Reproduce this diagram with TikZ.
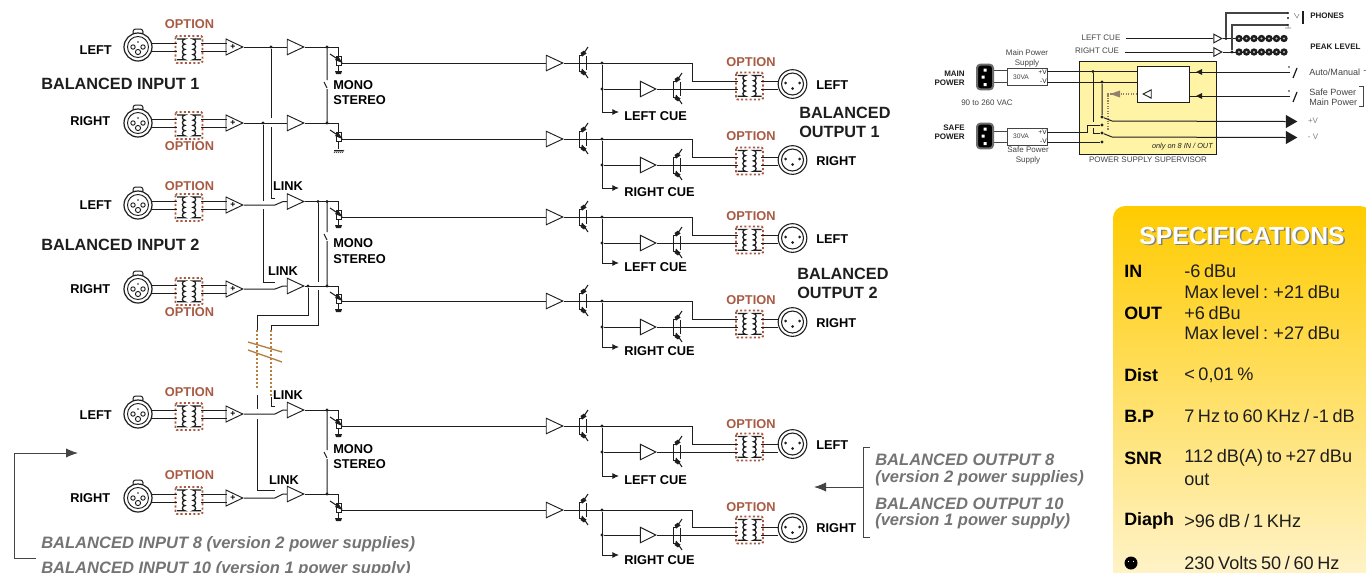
\documentclass[tikz,border=0pt]{standalone}
\usepackage{fontspec}
\setmainfont{Liberation Sans}
\usetikzlibrary{shapes.geometric,arrows.meta}
\definecolor{ink}{HTML}{1E1E1E}
\definecolor{optc}{HTML}{A85A42}
\definecolor{brownl}{HTML}{B5803F}
\definecolor{greyt}{HTML}{747474}
\definecolor{panelt}{HTML}{444444}
\newcommand{\tsp}[1]{{\spaceskip=.2em\relax #1}}
\tikzset{
 w/.style={line width=0.75pt,draw=ink},
 thinw/.style={line width=0.55pt,draw=ink},
 amp/.style={isosceles triangle,isosceles triangle stretches,shape border rotate=0,draw=ink,fill=white,line width=0.7pt,inner sep=0pt,minimum width=11.6pt,minimum height=12.4pt,anchor=apex},
 opamp/.style={amp,minimum height=12.6pt,minimum width=12pt},
 samp/.style={amp,minimum height=6pt,minimum width=6.5pt},
 lab/.style={inner sep=0pt,font=\fontsize{9.6}{11}\selectfont\bfseries,text=black},
 big/.style={inner sep=0pt,anchor=west,font=\fontsize{12.2}{14}\selectfont\bfseries,text=ink},
 opt/.style={inner sep=0pt,font=\fontsize{9.6}{11}\selectfont\bfseries,text=optc},
 note/.style={inner sep=0pt,anchor=west,font=\fontsize{12.4}{14}\selectfont\bfseries\itshape,text=greyt},
 tiny/.style={inner sep=0pt,font=\fontsize{6}{7}\selectfont,text=panelt},
 tinyl/.style={inner sep=0pt,anchor=west,font=\fontsize{6.8}{8}\selectfont,text=panelt},
 tinyb/.style={inner sep=0pt,font=\fontsize{6}{7}\selectfont\bfseries,text=ink},
 spk/.style={inner sep=0pt,anchor=west,font=\fontsize{13.4}{16}\selectfont\bfseries,text=black},
 spv/.style={inner sep=0pt,anchor=west,font=\fontsize{13.6}{16}\selectfont,text=ink},
 xfbox/.style={draw=optc,line width=1.4pt,dash pattern=on 1.6pt off 1.6pt,rounded corners=1pt},
 tipb/.style={-{Latex[length=5pt,width=4.5pt]}},
 gr/.style={line width=0.75pt,draw=panelt},
 jd/.style={circle,fill=ink,inner sep=0pt,minimum size=2.4pt},
 bigtip/.style={isosceles triangle,isosceles triangle stretches,shape border rotate=0,fill=ink,inner sep=0pt,minimum width=9.8pt,minimum height=8.5pt,anchor=apex},
 iecbody/.style={draw=gray!85!black,line width=1.5pt,fill=black,rounded corners=2.5pt,minimum width=12pt,minimum height=18.5pt,inner sep=0pt},
 psubox/.style={draw=panelt,fill=white,line width=0.55pt,minimum width=30pt,minimum height=12.4pt,inner sep=0pt},
 psuv/.style={inner sep=0pt,anchor=east,font=\fontsize{5}{6}\selectfont,text=ink},
}
% transformer: name, cx, cy
\newcommand{\xfmr}[3]{%
 \coordinate (#1) at (#2,#3);
 \draw[xfbox] (#2-13.5,#3-13.5) rectangle (#2+13.5,#3+13.5);
 \draw[line width=0.95pt,draw=ink] (#2-12,#3-10.5) -- (#2-4,#3-10.5)
   arc[start angle=-90,end angle=-270,radius=2.6] arc[start angle=-90,end angle=-270,radius=2.6]
   arc[start angle=-90,end angle=-270,radius=2.6] arc[start angle=-90,end angle=-270,radius=2.6]
   -- (#2-12,#3+10.3);
 \draw[line width=0.95pt,draw=ink] (#2+12,#3-10.5) -- (#2+4,#3-10.5)
   arc[start angle=-90,end angle=90,radius=2.6] arc[start angle=-90,end angle=90,radius=2.6]
   arc[start angle=-90,end angle=90,radius=2.6] arc[start angle=-90,end angle=90,radius=2.6]
   -- (#2+12,#3+10.3);
}
% transistor pair: name, x, y
\newcommand{\tr}[3]{%
 \coordinate (#1in) at (#2,#3);
 \coordinate (#1out) at (#2+8,#3);
 \draw[w] (#2,#3-8) -- (#2,#3+8) (#2+7,#3-7) -- (#2+7,#3+7) (#2,#3) -- (#2+8,#3);
 \draw[w] (#2,#3-8) -- (#2+4,#3-8);
 \draw[w] (#2,#3+8) -- (#2+4,#3+8);
 \draw[w] (#2+3,#3-7) -- (#2+9,#3-16);
 \draw[w] (#2+3,#3+6) -- (#2+9,#3+15);
 \fill[ink] (#2+3,#3-6.5) -- (#2+7.5,#3-9.5) -- (#2+5,#3-12.5) -- (#2+1.5,#3-10) -- cycle;
 \fill[ink] (#2+3,#3+6.5) -- (#2+7.5,#3+9.5) -- (#2+5,#3+12.5) -- (#2+1.5,#3+10) -- cycle;
}
% input channel: name, y, label, label y, option y, label x
\newcommand{\inch}[6]{%
 \draw[w,fill=white,rounded corners=2pt] (133,#2-18) rectangle (143,#2-12);
 \node[circle,draw=ink,fill=white,line width=0.9pt,minimum size=21pt,inner sep=0pt] (#1x) at (138,#2) {};
 \draw[line width=0.7pt,draw=ink] (#1x) circle[radius=10.5];
 \draw[line width=0.7pt,draw=ink] (133,#2) circle[radius=2.2] (143,#2) circle[radius=2.2] (138,#2+5) circle[radius=2.6];
 \fill[ink] (138,#2-5) circle[radius=0.9];
 \node[lab,anchor=east] (#1l) at (#6,#4) {#3};
 \xfmr{#1t}{189}{#2+2.5}
 \node[opt] (#1o) at (189.5,#5) {OPTION};
 \node[opamp] (#1a) at (244,#2) {};
 \node[inner sep=0pt,font=\fontsize{6.5}{7}\selectfont\bfseries] (#1p) at (233,#2) {+};
 \draw[w] (151,#2-4) -- (177,#2-4) (151,#2+4) -- (177,#2+4);
 \draw[w] (201,#2-4) -- (227,#2-4) (201,#2+4) -- (227,#2+4);
}
% second stage: name, y, out y
\newcommand{\stage}[3]{%
 \node[amp] (#1b) at (305,#2) {};
 \coordinate (#1pin) at (338.5,#2);
 \coordinate (#1out) at (346,#3);
 \draw[w] (#1b.apex) -- (#1pin) -- (338.5,#3-7);
 \draw[w,fill=white] (336,#3-7) rectangle (341,#3+2);
 \draw[w] (338.5,#3+2) -- (338.5,#3+10);
 \draw[w] (330,#3-9) -- (342,#3-1);
 \fill[ink] (342.5,#3) -- (335,#3-3) -- (338,#3-7) -- cycle;
 \draw[w] (342,#3) -- (#1out);
}
\newcommand{\gnd}[1]{\fill[ink] (335,#1) -- (342,#1) -- (341,#1+3) -- (336,#1+3) -- cycle;}
% link switch: name, opamp y, amp y
\newcommand{\swl}[3]{%
 \coordinate (#1sa) at (275,#2);
 \coordinate (#1sb) at (283,#3);
 \draw[w] (#1a.apex) -- (#1sa) -- (#1sb) -- (#1b.west);
}
% output channel: name,source,y0,branch,cue,opt,xlr,boxc
\newcommand{\outch}[8]{%
 \node[amp] (#1a) at (564,#3) {};
 \draw[w] (#2) -- (#1a.west);
 \tr{#1t}{579}{#3}
 \draw[w] (#1a.apex) -- (#1tin);
 \node[jd] (#1j) at (602,#3) {};
 \node[amp,minimum height=11.5pt,minimum width=11.5pt] (#1c) at (657,#4) {};
 \tr{#1u}{673}{#4}
 \draw[w] (#1c.apex) -- (#1uin);
 \xfmr{#1f}{749.5}{#8}
 \node[opt] (#1o) at (751,#6) {OPTION};
 \node[circle,draw=ink,fill=white,line width=0.8pt,minimum size=21.5pt,inner sep=0pt] (#1x) at (792.5,#7) {};
 \draw[line width=0.8pt,draw=ink] (#1x) circle[radius=11];
 \fill[ink] (785.5,#7-1) circle[radius=1.5] (799.5,#7-1) circle[radius=1.5] (792.5,#7+4.5) circle[radius=1.5];
 \draw[w] (#1tout) -- (692,#3) -- (692,#4-8) -- (738,#4-8);
 \draw[w] (#1uout) -- (738,#4);
 \draw[w,tipb] (#1j) -- (602,#5) -- (619,#5);
 \node[jd] (#1k) at (602,#4) {};
 \draw[w] (#1k) -- (#1c.west);
 \draw[w] (761,#4-8) -- (778,#4-8) (761,#4) -- (778,#4);
}
\begin{document}
\begin{tikzpicture}[x=0.75pt,y=-0.75pt]
\useasboundingbox (0,0) rectangle (1366,572);
\clip (0,0) rectangle (1366,572);
\fill[white] (0,0) rectangle (1366,572);

% input channels
\inch{ia}{47}{LEFT}{50}{24.5}{112}
\inch{ib}{123}{RIGHT}{121.5}{146.5}{110.5}
\inch{ic}{205}{LEFT}{205.5}{186.5}{112}
\inch{id}{289}{RIGHT}{289.5}{312.5}{110.5}
\inch{ie}{414}{LEFT}{415}{392.5}{112}
\inch{if}{498}{RIGHT}{498.5}{475.5}{110.5}

\stage{ia}{47}{63}
\stage{ib}{123}{139}
\stage{ic}{201.5}{217}
\stage{id}{286}{301}
\stage{ie}{410}{426}
\stage{if}{494}{510}
\gnd{71}\gnd{225}\gnd{309}\gnd{434}\gnd{518}
% hatched ground
\draw[line width=0.75pt,draw=ink] (334,150) -- (343,150);
\foreach \q in {334,336,...,342} \draw[line width=0.5pt,draw=ink] (\q,153) -- (\q+2,150);

% stage one to stage two
\draw[w] (iaa.apex) -- (iab.west);
\draw[w] (iba.apex) -- (ibb.west);
\swl{ic}{205}{201.5}
\swl{id}{289}{286}
\swl{ie}{414}{410}
\swl{if}{498}{494}

% link wires
\node[jd] (ja) at (271,47) {};
\node[jd] (jb) at (263,123) {};
\coordinate (la1) at (271,198);
\coordinate (la2) at (275,198);
\coordinate (lb1) at (263,282);
\coordinate (lb2) at (275,282);
\draw[w] (ja) -- (271,118) (271,127) -- (la1) -- (la2);
\draw[w] (jb) -- (263,201) (263,209) -- (lb1) -- (lb2);
% bus from channel 2 group
\node[jd] (jc) at (318,201.5) {};
\node[jd] (jd) at (327,201.5) {};
\node[jd] (je) at (308,286) {};
\node[jd] (jf) at (327,286) {};
\coordinate (bus1) at (271,325);
\coordinate (bus2) at (257,315);
\draw[w] (jc) -- (318,282) (318,290) -- (318,325) -- (bus1);
\draw[w] (je) -- (308,315) -- (bus2);
\draw[w] (bus1) -- (271,330);
\draw[w] (bus2) -- (257,330);
\draw[line width=1pt,draw=brownl,dash pattern=on 1.5pt off 1.5pt] (257,330) -- (257,388);
\draw[line width=1pt,draw=brownl,dash pattern=on 1.5pt off 1.5pt] (271,330) -- (271,397);
\draw[line width=1pt,draw=brownl] (248,342) -- (282,352) (248,350) -- (282,362);
\coordinate (lc1) at (271,406);
\coordinate (lc2) at (275,406);
\coordinate (ld1) at (257,490);
\coordinate (ld2) at (275,490);
\draw[w] (271,397) -- (lc1) -- (lc2);
\draw[w] (257,395) -- (257,409) (257,419) -- (ld1) -- (ld2);

% mono/stereo switches
\foreach \ya/\yb/\ys in {47/123/80, 201.5/286/232, 410/494/450}{
 \draw[w] (327,\ya) -- (327,\ys) (327,\ys+9) -- (327,\yb) (324,\ys+2) -- (327,\ys+8);
}
\node[jd] (jg) at (327,47) {};
\node[jd] (jh) at (327,123) {};
\node[jd] (ji) at (327,410) {};
\node[jd] (jj) at (327,494) {};

\node[lab,anchor=west] (t1) at (333,85.5) {MONO};
\node[lab,anchor=west] (t2) at (333,100.5) {STEREO};
\node[lab,anchor=west] (t3) at (333,243.5) {MONO};
\node[lab,anchor=west] (t4) at (333,259.5) {STEREO};
\node[lab,anchor=west] (t5) at (333,449.5) {MONO};
\node[lab,anchor=west] (t6) at (333,464.5) {STEREO};
\node[lab] (t7) at (288,186.5) {LINK};
\node[lab] (t8) at (283,271.5) {LINK};
\node[lab] (t9) at (288,395.5) {LINK};
\node[lab] (t10) at (284,480.5) {LINK};
\node[big] (t11) at (41,84) {BALANCED INPUT 1};
\node[big] (t12) at (41,245) {BALANCED INPUT 2};
\node[big] (t13) at (799,113) {BALANCED};
\node[big] (t14) at (799,132) {OUTPUT 1};
\node[big] (t15) at (797,274) {BALANCED};
\node[big] (t16) at (797,293) {OUTPUT 2};

% outputs
\outch{oa}{iaout}{63}{89}{112}{62}{84}{86}
\outch{ob}{ibout}{139}{165}{188}{136.5}{160}{161}
\outch{oc}{icout}{217}{243}{263}{216.5}{238}{240}
\outch{od}{idout}{301}{327}{347}{300.5}{322}{324}
\outch{oe}{ieout}{426}{452}{476}{424.5}{444}{447}
\outch{of}{ifout}{510}{535}{555}{507.5}{528}{530}
\foreach \n/\yy/\tx in {a/116.5/LEFT CUE,b/192.5/RIGHT CUE,c/267.5/LEFT CUE,d/351.5/RIGHT CUE,e/480.5/LEFT CUE,f/560.5/RIGHT CUE}
 \node[lab,anchor=west] (cue\n) at (624,\yy) {\tx};
\foreach \n/\yy/\tx in {a/85.5/LEFT,b/161.5/RIGHT,c/239.5/LEFT,d/323.5/RIGHT,e/445.5/LEFT,f/528.5/RIGHT}
 \node[lab,anchor=west] (out\n) at (816,\yy) {\tx};

% version notes
\node[note] (n1) at (41,544.5) {BALANCED INPUT 8 (version 2 power supplies)};
\node[note] (n2) at (41,569) {BALANCED INPUT 10 (version 1 power supply)};
\node[note] (n3) at (875,459.5) {BALANCED OUTPUT 8};
\node[note] (n4) at (875,478.5) {(version 2 power supplies)};
\node[note] (n5) at (875,503.5) {BALANCED OUTPUT 10};
\node[note] (n6) at (875,521.5) {(version 1 power supply)};
\coordinate (a0) at (36,558);
\coordinate (a1) at (14,558);
\coordinate (a2) at (14,453);
\coordinate (a3) at (78,453);
\draw[gr,-{Latex[length=9pt,width=7pt]}] (a0) -- (a1) -- (a2) -- (a3);
\coordinate (b0) at (870,447);
\coordinate (b1) at (863,447);
\coordinate (b2) at (863,537);
\coordinate (b3) at (870,537);
\coordinate (b4) at (863,487);
\coordinate (b5) at (814,487);
\draw[gr,line width=0.6pt] (b0) -- (b1) -- (b2) -- (b3);
\draw[gr,-{Latex[length=9pt,width=7pt]}] (b4) -- (b5);

% ---- power panel
\definecolor{psy}{HTML}{FFF3A6}
\draw[line width=0.7pt,draw=ink,fill=psy] (1079,61) rectangle (1216,154);
\node[draw=ink,fill=white,line width=0.7pt,minimum width=39pt,minimum height=27pt,inner sep=0pt] (sup) at (1163,84) {};
\node[psubox] (psm) at (1027,77) {};
\node[psubox] (pss) at (1027,137) {};
\draw[gr,line width=0.7pt] (992,70) -- (1007,70) (992,82) -- (1007,82) (992,131) -- (1007,131) (992,142) -- (1007,142);
\foreach \n/\yy in {m/77,s/136}{
 \node[iecbody] (iec\n) at (985,\yy) {};
 \fill[white] (983.5,\yy-8.5) rectangle (986.5,\yy-5.5) (981.5,\yy-1.5) rectangle (984.5,\yy+1.5) (983.5,\yy+6) rectangle (986.5,\yy+9);
}
\node[tiny,font=\fontsize{5}{6}\selectfont] (v1) at (1021,77) {30VA};
\node[tiny,font=\fontsize{5}{6}\selectfont] (v2) at (1021,136.5) {30VA};
\node[psuv] (v3) at (1047,72) {+V};
\node[psuv] (v4) at (1047,81) {-V};
\node[psuv] (v5) at (1047,132) {+V};
\node[psuv] (v6) at (1047,141) {-V};
\node[tiny] (p1) at (1027,53) {Main Power};
\node[tiny] (p2) at (1027,63) {Supply};
\node[tiny] (p3) at (1028,150) {Safe Power};
\node[tiny] (p4) at (1028,160) {Supply};
\node[tiny] (p5) at (987,103) {90 to 260 VAC};
\node[tinyb,anchor=east] (p6) at (965,74) {MAIN};
\node[tinyb,anchor=east] (p7) at (965,83) {POWER};
\node[tinyb,anchor=east] (p8) at (965,128) {SAFE};
\node[tinyb,anchor=east] (p9) at (965,137) {POWER};
\node[inner sep=0pt,anchor=east,font=\fontsize{5.5}{7}\selectfont\itshape,text=ink] (p10) at (1213,147) {only on 8 IN / OUT};
\node[tiny] (p11) at (1148,160) {POWER SUPPLY SUPERVISOR};
% supervisor wiring
\coordinate (s1) at (1047,71.5);
\coordinate (s2) at (1047,82);
\draw[w] (s1) -- (sup.west |- s1) (s2) -- (sup.west |- s2);
\node[jd] (sa) at (1093,71.5) {};
\node[jd] (sb) at (1102,82) {};
\node[jd] (sc) at (1102,117) {};
\node[jd] (sd) at (1102,125) {};
\node[jd] (se) at (1102,133) {};
\node[jd] (sf) at (1102,142) {};
\coordinate (sg) at (1112,121);
\coordinate (sh) at (1112,137);
\draw[w] (sa) -- (1093,122);
\draw[w] (1093,128) -- (1093,133) -- (se);
\draw[w] (sb) -- (sc) -- (sg);
\draw[w] (se) -- (sh);
\draw[w] (1047,132) -- (1087,132) -- (1087,125) -- (sd);
\draw[w] (1047,142) -- (sf);
\draw[line width=0.9pt,draw=gray!70!brown,densely dotted] (1137,94) -- (1108,94) -- (1108,130);
\fill[gray!70!brown] (1110,94) -- (1120,90.5) -- (1120,97.5) -- cycle;
\node[isosceles triangle,isosceles triangle stretches,shape border rotate=180,draw=ink,fill=white,inner sep=0pt,minimum width=6.2pt,minimum height=6pt,line width=0.7pt,anchor=apex] (sti) at (1142,94) {};
% outgoing arrows
\node[bigtip] (ta) at (1298,121.5) {};
\node[bigtip] (tb) at (1298,137.5) {};
\draw[w] (sg) -- (ta.west);
\draw[w] (sh) -- (tb.west);
\node[tiny,text=gray] (tc) at (1313,121) {+V};
\node[tiny,text=gray] (td) at (1313,137) {- V};
% incoming from switches
\foreach \n/\yy/\ty in {u/72/Auto,v/96/Safe}{
 \coordinate (sw\n) at (1290,\yy);
 \draw[w] (sw\n) -- (1189,\yy);
 \fill[ink] (1196,\yy) -- (1202,\yy-3) -- (1202,\yy+3) -- cycle;
 \draw[line width=0.9pt,draw=ink] (1293,\yy+6) -- (1297,\yy-4);
 \fill[ink] (1289,\yy-5) circle[radius=0.9];
}
\node[tinyl] (q1) at (1309,72) {Auto/Manual};
\node[tinyl] (q1b) at (1363,72) {-};
\node[tinyl] (q2) at (1309,92) {Safe Power};
\node[tinyl] (q3) at (1309,102) {Main Power};
\draw[line width=0.5pt,draw=panelt] (1359,86) -- (1363,86) -- (1363,106) -- (1359,106);
% cue drivers, LEDs
\node[tiny] (c1) at (1101,38) {LEFT CUE};
\node[tiny] (c2) at (1097,51) {RIGHT CUE};
\node[samp] (da) at (1223,38.5) {};
\node[samp] (db) at (1223,52) {};
\draw[w] (1126,38.5) -- (da.west);
\draw[w] (1125,52) -- (db.west);
\draw[w] (da.apex) -- (1285,38.5);
\draw[w] (db.apex) -- (1285,52);
\foreach \q in {1239,1246.5,...,1285}{
 \fill[ink] (\q,38.5) circle[radius=3.7] (\q,52) circle[radius=3.7];
 \fill[gray!50] (\q,38.5) circle[radius=1.2] (\q,52) circle[radius=1.2];
}
\node[jd] (dc) at (1226,38.5) {};
\node[jd] (dd) at (1232,52) {};
\coordinate (de) at (1288,13);
\coordinate (df) at (1288,25);
\draw[line width=1pt,draw=panelt] (dc) -- (1226,13) -- (de);
\draw[line width=1pt,draw=panelt] (dd) -- (1232,25) -- (df);
\fill[ink] (1288,13) circle[radius=1.2] (1288,18) circle[radius=1.2] (1288,25) circle[radius=1.2];
\draw[line width=0.4pt,draw=gray] (1294,13) -- (1297,18) -- (1299,14) (1288,25) -- (1288,28) (1285,28) -- (1291,28);
\draw[line width=1.3pt,draw=ink] (1303,11) -- (1303,24);
\node[tinyb,anchor=west] (d1) at (1310,16) {PHONES};
\node[tinyb,anchor=west] (d2) at (1310,47) {PEAK LEVEL};

% ---- specifications
\definecolor{spa}{HTML}{FFCB00}
\definecolor{spb}{HTML}{FFF6D6}
\path[top color=spa,bottom color=spb,rounded corners=9pt] (1113,600) rectangle (1372,206);
\node[inner sep=0pt,font=\fontsize{18.5}{20}\selectfont\bfseries,text=gray] (shs) at (1243.5,237.5) {SPECIFICATIONS};
\node[inner sep=0pt,font=\fontsize{18.5}{20}\selectfont\bfseries,text=white] (spt) at (1242,236) {SPECIFICATIONS};
\node[spk] (k1) at (1124,271) {IN};
\node[spk] (k2) at (1124,313) {OUT};
\node[spk] (k3) at (1124,375) {Dist};
\node[spk] (k4) at (1124,416) {B.P};
\node[spk] (k5) at (1124,458) {SNR};
\node[spk] (k6) at (1124,521) {Diaph};
\node[spv] (e1) at (1184,271) {\tsp{-6 dBu}};
\node[spv] (e2) at (1184,292) {\tsp{Max level : +21 dBu}};
\node[spv] (e3) at (1184,313) {\tsp{+6 dBu}};
\node[spv] (e4) at (1184,333) {\tsp{Max level : +27 dBu}};
\node[spv] (e5) at (1184,375) {\tsp{< 0,01 \%}};
\node[spv] (e6) at (1184,416) {\tsp{7 Hz to 60 KHz / -1 dB}};
\node[spv] (e7) at (1184,458) {\tsp{112 dB(A) to +27 dBu}};
\node[spv] (e8) at (1184,480) {out};
\node[spv] (e9) at (1184,521) {\tsp{>96 dB / 1 KHz}};
\node[spv] (e10) at (1184,563) {\tsp{230 Volts 50 / 60 Hz}};
\fill[black] (1131,563) circle[radius=6.5];
\fill[white] (1128.5,561.5) circle[radius=0.7] (1133.5,561.5) circle[radius=0.7];
\end{tikzpicture}
\end{document}
